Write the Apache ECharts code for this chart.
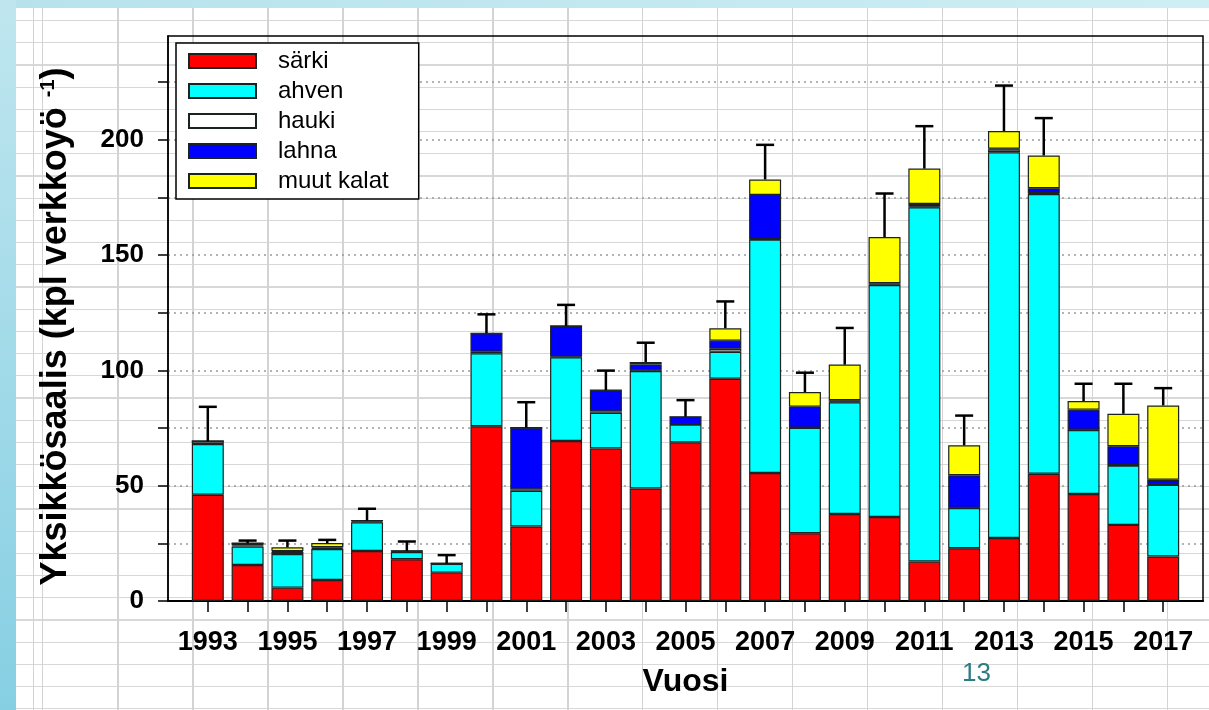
<!DOCTYPE html>
<html>
<head>
<meta charset="utf-8">
<script src="https://cdn.jsdelivr.net/npm/echarts@6/dist/echarts.min.js"></script>
<style>
  html, body { margin: 0; padding: 0; }
  #wrap {
    position: relative; width: 1209px; height: 710px; overflow: hidden;
    background-color: #ffffff;
    background-image:
      repeating-linear-gradient(90deg, #d3d3d3 0px, #d3d3d3 1.5px, transparent 1.5px, transparent 75px),
      repeating-linear-gradient(180deg, #d8d8d8 0px, #d8d8d8 1.2px, transparent 1.2px, transparent 22.2px);
    background-position: 42px 0px, 0px 20px;
  }
  #topstrip { position: absolute; left: 0; top: 0; width: 1209px; height: 8px;
    background: linear-gradient(90deg, #b7e2ec, #cdeef4); }
  #leftstrip { position: absolute; left: 0; top: 0; width: 16px; height: 710px;
    background: linear-gradient(180deg, #bfe6ef, #86cfe3); }
  #chart { position: absolute; left: 0; top: 0; width: 1209px; height: 710px; }
</style>
</head>
<body>
<div id="wrap">
  <div id="topstrip"></div>
  <div id="leftstrip"></div>
  <div id="chart"></div>
</div>
<script>
const years = [1993,1994,1995,1996,1997,1998,1999,2000,2001,2002,2003,2004,2005,2006,2007,2008,2009,2010,2011,2012,2013,2014,2015,2016,2017];
const sarki = [46.1,15.6,5.8,9.1,21.7,18.1,12.3,75.8,32.3,69.4,66.1,48.8,68.8,96.4,55.5,29.4,37.7,36.4,17.1,22.9,27.3,55.2,46.4,33.0,19.3];
const ahven = [22.0,8.0,14.6,13.4,12.4,3.1,3.8,31.6,15.5,36.3,15.5,50.9,7.7,11.7,101.2,45.7,48.5,100.6,153.6,17.4,167.3,121.3,27.7,25.7,31.1];
const hauki = [1.2,0.5,0.8,0.4,0.4,0.3,0.2,0.7,0.6,0.2,0.6,0.3,0.2,1.3,0.2,0.1,0.2,0.2,0.3,0.1,1.2,0.3,0.2,0.2,0.2];
const lahna = [0,1.0,0.4,0.4,0.4,0.2,0,8.0,26.8,13.4,9.2,2.6,3.2,3.5,19.2,9.0,0.7,0.6,1.2,14.1,0.3,2.2,8.7,8.2,2.0];
const muut  = [0,0,1.7,1.8,0,0,0,0,0,0,0,1.0,0,5.4,6.7,6.4,15.4,20.0,15.3,13.0,7.7,14.2,3.7,14.1,32.2];
const virhe = [14.9,1.1,2.9,1.4,5.1,4.1,3.6,8.2,11.0,9.1,8.5,8.4,7.2,11.6,15.0,8.4,15.9,18.9,18.4,12.9,19.7,16.2,7.5,13.0,7.5];
const labelYears = [1993,1995,1997,1999,2001,2003,2005,2007,2009,2011,2013,2015,2017];
const yLabels = [0,50,100,150,200];
const yTicks = [0,25,50,75,100,125,150,175,200,225];
const seriesNames = ['särki','ahven','hauki','lahna','muut kalat'];
const seriesColors = ['#ff0000','#00ffff','#ffffff','#0000ff','#ffff00'];

const values = [sarki, ahven, hauki, lahna, muut];
const totals = years.map((y, i) => sarki[i] + ahven[i] + hauki[i] + lahna[i] + muut[i]);

const font = '"Liberation Sans", Arial, sans-serif';

// data as [value, year] so the stack runs on the value (y) dimension
const barSeries = values.map((arr, k) => ({
  name: seriesNames[k],
  type: 'bar',
  stack: 'saalis',
  barWidth: 32,
  data: years.map((y, i) => [arr[i], y]),
  encode: { x: 1, y: 0 },
  itemStyle: { color: seriesColors[k], borderColor: '#1a2222', borderWidth: 1.2 },
  emphasis: { disabled: true },
  z: 2
}));

const errSeries = {
  type: 'custom',
  name: 'virhe',
  data: years.map((y, i) => [y, totals[i], virhe[i]]),
  encode: { x: 0, y: 1 },
  z: 5,
  renderItem: function (params, api) {
    const x = api.value(0);
    const base = api.value(1);
    const top = base + api.value(2);
    const p0 = api.coord([x, base]);
    const p1 = api.coord([x, top]);
    const half = 9;
    return {
      type: 'group',
      children: [
        { type: 'line', shape: { x1: p0[0], y1: p0[1], x2: p1[0], y2: p1[1] },
          style: { stroke: '#000', lineWidth: 2.5 } },
        { type: 'line', shape: { x1: p1[0] - half, y1: p1[1], x2: p1[0] + half, y2: p1[1] },
          style: { stroke: '#000', lineWidth: 2.5 } }
      ]
    };
  }
};

const chart = echarts.init(document.getElementById('chart'));
chart.setOption({
  animation: false,
  backgroundColor: 'transparent',
  textStyle: { fontFamily: font },
  grid: { left: 168, right: 6, top: 36, bottom: 109, show: true, borderColor: '#000', borderWidth: 1.5, backgroundColor: 'transparent' },
  legend: {
    orient: 'vertical',
    left: 176, top: 43,
    data: seriesNames,
    icon: 'rect',
    backgroundColor: '#ffffff',
    borderColor: '#000', borderWidth: 1.5,
    padding: [6, 30, 6, 12],
    itemWidth: 67, itemHeight: 14, itemGap: 6,
    selectedMode: false,
    textStyle: { fontSize: 24, color: '#000', fontFamily: font, lineHeight: 23, padding: [0, 0, 0, 17] }
  },
  xAxis: {
    type: 'value', min: 1992, max: 2018, interval: 2,
    name: 'Vuosi', nameLocation: 'middle', nameGap: 65,
    nameTextStyle: { fontSize: 32, fontWeight: 'bold', color: '#000', fontFamily: font },
    axisLine: { show: true, lineStyle: { color: '#000', width: 2 } },
    axisTick: { show: true, customValues: years, length: 11, lineStyle: { color: '#000', width: 1.5 } },
    axisLabel: { customValues: labelYears, formatter: v => String(v), fontSize: 27, fontWeight: 'bold', color: '#000', margin: 28, fontFamily: font },
    splitLine: { show: false }
  },
  yAxis: {
    type: 'value', min: 0, max: 245, interval: 50,
    name: 'Yksikkösaalis (kpl verkkoyö {sup|-1}{p|)}',
    nameLocation: 'middle', nameGap: 93,
    nameTextStyle: {
      fontSize: 36, fontWeight: 'bold', color: '#000', fontFamily: font,
      padding: [0, 16, 0, 0],
      rich: {
        sup: { fontSize: 20, fontWeight: 'bold', verticalAlign: 'top', lineHeight: 37, fontFamily: font, color: '#000' },
        p: { fontSize: 36, fontWeight: 'bold', fontFamily: font, color: '#000' }
      }
    },
    axisLine: { show: true, lineStyle: { color: '#000', width: 1.5 } },
    axisTick: { show: true, customValues: yTicks, length: 10, lineStyle: { color: '#000', width: 1.5 } },
    axisLabel: { customValues: yLabels, fontSize: 26, fontWeight: 'bold', color: '#000', margin: 24, fontFamily: font },
    splitLine: { show: true, lineStyle: { color: '#9a9a9a', type: [2, 4], width: 1.5 } }
  },
  graphic: [
    { type: 'text', left: 962, top: 661,
      style: { text: '13', fontSize: 26, fill: '#2b7d84', fontFamily: '"Liberation Sans Narrow", "Liberation Sans", sans-serif' } }
  ],
  series: barSeries.concat([errSeries])
});
</script>
</body>
</html>
